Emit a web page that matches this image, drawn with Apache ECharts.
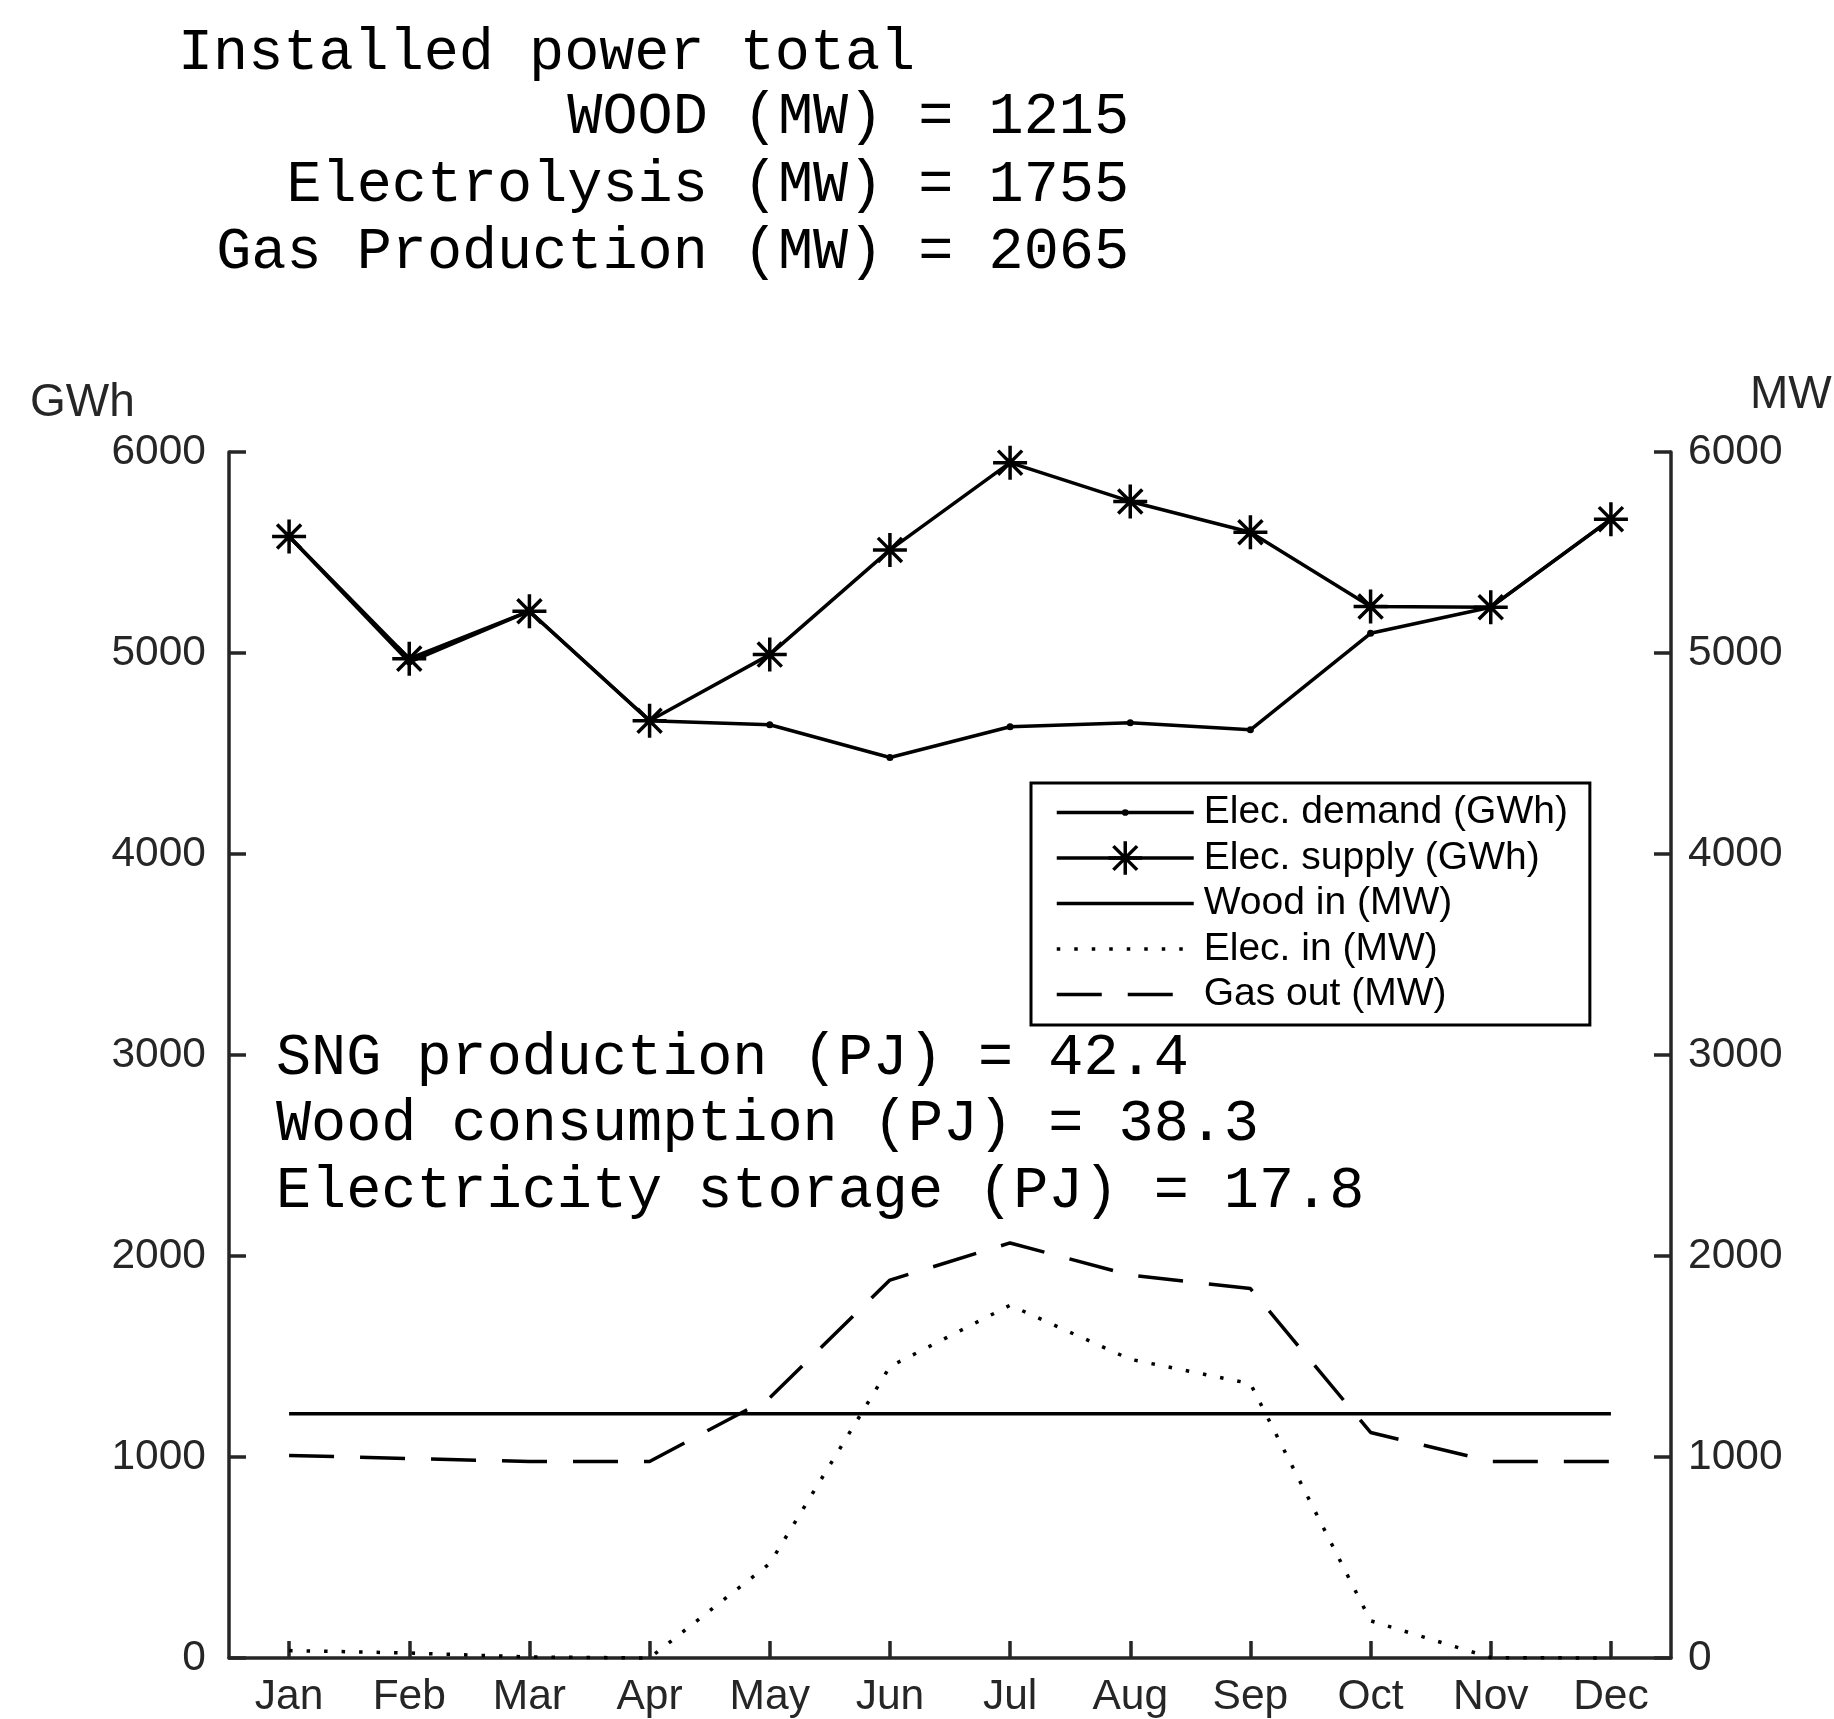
<!DOCTYPE html>
<html>
<head>
<meta charset="utf-8">
<script src="https://cdn.jsdelivr.net/npm/echarts@6/dist/echarts.min.js"></script>
<style>
  html, body { margin: 0; padding: 0; background: #ffffff; }
  #chart { width: 1834px; height: 1719px; }
</style>
</head>
<body>
<div id="chart"></div>
<script>
// Monthly categories
const months = ['Jan', 'Feb', 'Mar', 'Apr', 'May', 'Jun', 'Jul', 'Aug', 'Sep', 'Oct', 'Nov', 'Dec'];

// Electricity balance (GWh, left axis)
const elecDemand = [5580, 4955, 5208, 4663, 4643, 4480, 4633, 4653, 4618, 5098, 5228, 5666];
const elecSupply = [5580, 4972, 5208, 4663, 4992, 5513, 5947, 5754, 5601, 5231, 5228, 5666];

// Plant operation (MW, right axis)
const woodIn = [1215, 1215, 1215, 1215, 1215, 1215, 1215, 1215, 1215, 1215, 1215, 1215];
const elecIn = [37, 25, 5, 0, 470, 1450, 1755, 1486, 1365, 185, 2, 0];
const gasOut = [1008, 992, 978, 978, 1295, 1880, 2065, 1905, 1838, 1122, 978, 978];

// Shared value-axis range and ticks
const axisMin = 0;
const axisMax = 6000;
const axisStep = 1000;

// Header and summary annotations
const headerLines = ['Installed power total', 'WOOD (MW) = 1215', 'Electrolysis (MW) = 1755', 'Gas Production (MW) = 2065'];
const summaryLines = ['SNG production (PJ) = 42.4', 'Wood consumption (PJ) = 38.3', 'Electricity storage (PJ) = 17.8'];

const AXIS_COLOR = '#262626';
const LINE_W = 3.5;
const TICK_FONT = 42.5;
const SANS = '"Liberation Sans", Arial, Helvetica, sans-serif';
const MONO = '"Liberation Mono", "Courier New", monospace';

// Marker shapes: small filled dot and an eight-armed asterisk
const DOT_SYMBOL = 'path://M0,0M10,10M4,5A1,1,0,1,1,6,5A1,1,0,1,1,4,5Z';
const STAR_SYMBOL = 'path://M0,-10L0,10M-10,0L10,0M-7.07,-7.07L7.07,7.07M-7.07,7.07L7.07,-7.07';

function valueAxis(position, margin) {
  return {
    type: 'value',
    position: position,
    min: axisMin,
    max: axisMax,
    interval: axisStep,
    axisLine: { show: true, lineStyle: { color: AXIS_COLOR, width: 3.5 } },
    axisTick: { show: true, inside: true, length: 17, lineStyle: { color: AXIS_COLOR, width: 3.5 } },
    axisLabel: {
      color: AXIS_COLOR, fontSize: TICK_FONT, fontFamily: SANS, margin: margin,
      formatter: function (v) { return String(v); }
    },
    splitLine: { show: false }
  };
}

const textEls = [];
textEls.push({
  type: 'text', x: 178, y: 54,
  style: { text: headerLines[0], font: '58.5px ' + MONO, fill: '#000', align: 'left', verticalAlign: 'middle' }
});
[118, 186, 253].forEach(function (y, i) {
  textEls.push({
    type: 'text', x: 1129, y: y,
    style: { text: headerLines[i + 1], font: '58.5px ' + MONO, fill: '#000', align: 'right', verticalAlign: 'middle' }
  });
});
[1059, 1125, 1192].forEach(function (y, i) {
  textEls.push({
    type: 'text', x: 276, y: y,
    style: { text: summaryLines[i], font: '58.5px ' + MONO, fill: '#000', align: 'left', verticalAlign: 'middle' }
  });
});
textEls.push({
  type: 'text', x: 30, y: 403,
  style: { text: 'GWh', font: '46px ' + SANS, fill: AXIS_COLOR, align: 'left', verticalAlign: 'middle' }
});
textEls.push({
  type: 'text', x: 1750, y: 395,
  style: { text: 'MW', font: '46px ' + SANS, fill: AXIS_COLOR, align: 'left', verticalAlign: 'middle' }
});

const option = {
  animation: false,
  backgroundColor: '#ffffff',
  grid: { left: 229, right: 163, top: 452, bottom: 61, containLabel: false, outerBoundsMode: 'none' },
  xAxis: {
    type: 'category',
    data: months,
    boundaryGap: true,
    axisLine: { show: true, lineStyle: { color: AXIS_COLOR, width: 3.5 } },
    axisTick: { show: true, inside: true, length: 17, alignWithLabel: true, lineStyle: { color: AXIS_COLOR, width: 3.5 } },
    axisLabel: { color: AXIS_COLOR, fontSize: TICK_FONT, fontFamily: SANS, margin: 18, interval: 0 },
    splitLine: { show: false }
  },
  yAxis: [valueAxis('left', 23), valueAxis('right', 17)],
  legend: {
    orient: 'vertical',
    left: 1031,
    top: 783,
    padding: [10, 22, 11, 24],
    itemWidth: 137,
    itemHeight: 42,
    itemGap: 6.5,
    borderColor: '#000',
    borderWidth: 3,
    borderRadius: 0,
    backgroundColor: '#ffffff',
    selectedMode: false,
    lineStyle: { width: LINE_W },
    textStyle: { fontSize: 39, fontFamily: SANS, color: '#000', lineHeight: 38, padding: [0, 0, 0, 5] },
    data: [
      { name: 'Elec. demand (GWh)', itemStyle: { borderWidth: 0 } },
      { name: 'Elec. supply (GWh)', itemStyle: { borderWidth: 3.5, borderColor: '#000' } },
      { name: 'Wood in (MW)', itemStyle: { opacity: 0 } },
      { name: 'Elec. in (MW)', itemStyle: { opacity: 0 } },
      { name: 'Gas out (MW)', itemStyle: { opacity: 0 } }
    ]
  },
  graphic: textEls,
  series: [
    {
      name: 'Elec. demand (GWh)', type: 'line', yAxisIndex: 0, data: elecDemand,
      symbol: DOT_SYMBOL, symbolSize: 35, showSymbol: true, clip: false,
      lineStyle: { color: '#000', width: LINE_W },
      itemStyle: { color: '#000', borderWidth: 0 },
      emphasis: { disabled: true }
    },
    {
      name: 'Elec. supply (GWh)', type: 'line', yAxisIndex: 0, data: elecSupply,
      symbol: STAR_SYMBOL, symbolSize: 34, showSymbol: true, clip: false,
      lineStyle: { color: '#000', width: LINE_W },
      itemStyle: { color: '#000', borderColor: '#000', borderWidth: 3.5 },
      emphasis: { disabled: true }
    },
    {
      name: 'Wood in (MW)', type: 'line', yAxisIndex: 1, data: woodIn,
      symbol: 'none', clip: false,
      lineStyle: { color: '#000', width: LINE_W },
      itemStyle: { color: '#000' },
      emphasis: { disabled: true }
    },
    {
      name: 'Elec. in (MW)', type: 'line', yAxisIndex: 1, data: elecIn,
      symbol: 'none', clip: false,
      lineStyle: { color: '#000', width: LINE_W, type: [3.5, 14], cap: 'butt' },
      itemStyle: { color: '#000' },
      emphasis: { disabled: true }
    },
    {
      name: 'Gas out (MW)', type: 'line', yAxisIndex: 1, data: gasOut,
      symbol: 'none', clip: false,
      lineStyle: { color: '#000', width: LINE_W, type: [45, 26], cap: 'butt' },
      itemStyle: { color: '#000' },
      emphasis: { disabled: true }
    }
  ]
};

const chart = echarts.init(document.getElementById('chart'), null, { renderer: 'canvas' });
chart.setOption(option);
</script>
</body>
</html>
